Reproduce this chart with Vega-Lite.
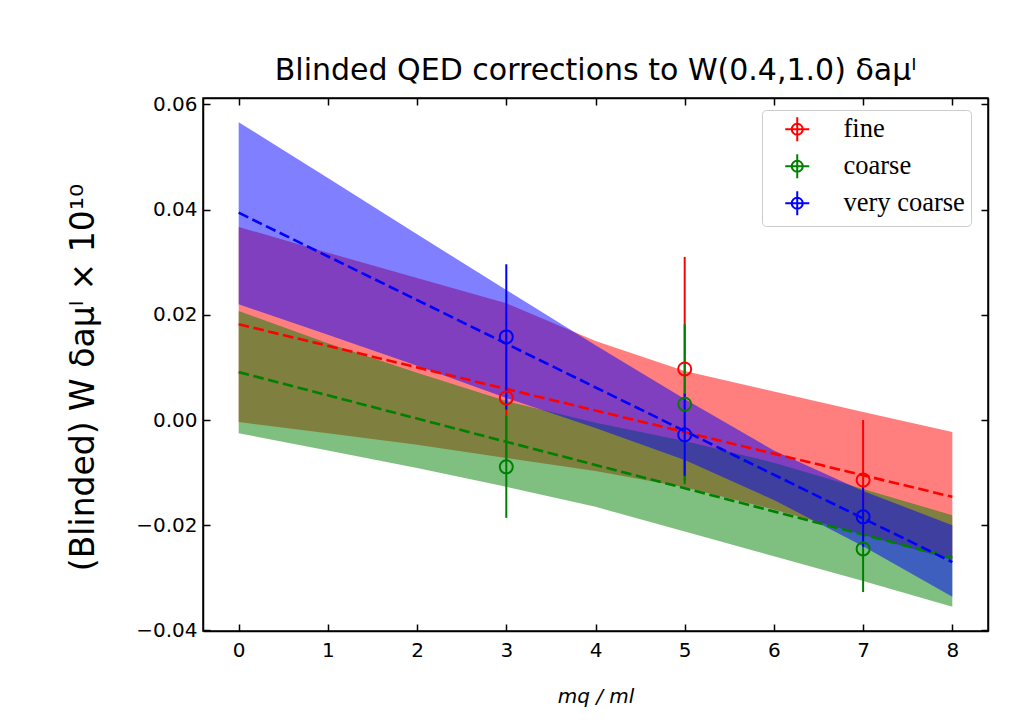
{
  "$schema": "https://vega.github.io/schema/vega-lite/v6.json",
  "width": 785,
  "height": 533,
  "autosize": {"type": "none"},
  "padding": {"left": 203, "top": 98, "right": 24, "bottom": 91},
  "background": "white",
  "title": {
    "text": "Blinded QED corrections to W(0.4,1.0) δaμˡ",
    "font": "DejaVu Sans",
    "fontSize": 30,
    "fontWeight": "normal",
    "color": "black",
    "anchor": "middle",
    "offset": 8
  },
  "config": {
    "view": {"stroke": "black", "strokeWidth": 1.5},
    "axis": {
      "grid": false,
      "domainColor": "black",
      "domainWidth": 1.5,
      "tickColor": "black",
      "tickWidth": 1.5,
      "tickSize": -7,
      "labelFont": "DejaVu Sans",
      "labelFontSize": 20,
      "labelColor": "black",
      "titleFont": "DejaVu Sans",
      "titleFontWeight": "normal",
      "titleColor": "black"
    }
  },
  "resolve": {"axis": {"x": "independent", "y": "independent"}},
  "datasets": {
    "bands": [
      {"series": "fine", "x": 0, "lo": -0.0004, "hi": 0.0367},
      {"series": "fine", "x": 1, "lo": -0.0025, "hi": 0.0318},
      {"series": "fine", "x": 2, "lo": -0.0047, "hi": 0.0270},
      {"series": "fine", "x": 3, "lo": -0.0072, "hi": 0.0222},
      {"series": "fine", "x": 4, "lo": -0.0097, "hi": 0.0150},
      {"series": "fine", "x": 5, "lo": -0.0128, "hi": 0.0093},
      {"series": "fine", "x": 6, "lo": -0.0170, "hi": 0.0054},
      {"series": "fine", "x": 7, "lo": -0.0218, "hi": 0.0015},
      {"series": "fine", "x": 8, "lo": -0.0266, "hi": -0.0023},
      {"series": "coarse", "x": 0, "lo": -0.0025, "hi": 0.0207},
      {"series": "coarse", "x": 1, "lo": -0.0058, "hi": 0.0146},
      {"series": "coarse", "x": 2, "lo": -0.0091, "hi": 0.0090},
      {"series": "coarse", "x": 3, "lo": -0.0127, "hi": 0.0036},
      {"series": "coarse", "x": 4, "lo": -0.0165, "hi": -0.0005},
      {"series": "coarse", "x": 5, "lo": -0.0212, "hi": -0.0040},
      {"series": "coarse", "x": 6, "lo": -0.0259, "hi": -0.0081},
      {"series": "coarse", "x": 7, "lo": -0.0306, "hi": -0.0131},
      {"series": "coarse", "x": 8, "lo": -0.0355, "hi": -0.0181},
      {"series": "very coarse", "x": 0, "lo": 0.0220, "hi": 0.0566},
      {"series": "very coarse", "x": 1, "lo": 0.0162, "hi": 0.0460},
      {"series": "very coarse", "x": 2, "lo": 0.0103, "hi": 0.0353},
      {"series": "very coarse", "x": 3, "lo": 0.0042, "hi": 0.0247},
      {"series": "very coarse", "x": 4, "lo": -0.0015, "hi": 0.0142},
      {"series": "very coarse", "x": 5, "lo": -0.0076, "hi": 0.0040},
      {"series": "very coarse", "x": 6, "lo": -0.0152, "hi": -0.0058},
      {"series": "very coarse", "x": 7, "lo": -0.0240, "hi": -0.0135},
      {"series": "very coarse", "x": 8, "lo": -0.0336, "hi": -0.0200}
    ],
    "fits": [
      {"series": "fine", "x": 0, "y": 0.0182},
      {"series": "fine", "x": 8, "y": -0.0146},
      {"series": "coarse", "x": 0, "y": 0.0091},
      {"series": "coarse", "x": 8, "y": -0.0262},
      {"series": "very coarse", "x": 0, "y": 0.0394},
      {"series": "very coarse", "x": 8, "y": -0.0270}
    ],
    "points": [
      {"series": "fine", "x": 3, "y": 0.0042, "lo": -0.0078, "hi": 0.0162},
      {"series": "fine", "x": 5, "y": 0.0097, "lo": -0.0116, "hi": 0.0310},
      {"series": "fine", "x": 7, "y": -0.0114, "lo": -0.0228, "hi": 0.0000},
      {"series": "coarse", "x": 3, "y": -0.0089, "lo": -0.0186, "hi": 0.0008},
      {"series": "coarse", "x": 5, "y": 0.0030, "lo": -0.0122, "hi": 0.0182},
      {"series": "coarse", "x": 7, "y": -0.0245, "lo": -0.0327, "hi": -0.0163},
      {"series": "very coarse", "x": 3, "y": 0.0158, "lo": 0.0020, "hi": 0.0296},
      {"series": "very coarse", "x": 5, "y": -0.0028, "lo": -0.0106, "hi": 0.0050},
      {"series": "very coarse", "x": 7, "y": -0.0184, "lo": -0.0241, "hi": -0.0127}
    ]
  },
  "layer": [
    {
      "data": {"name": "bands"},
      "transform": [{"filter": "datum.series === 'fine'"}],
      "mark": {"type": "area", "color": "#ff0000", "fillOpacity": 0.5},
      "encoding": {
        "x": {"field": "x", "type": "quantitative", "scale": {"domain": [-0.4, 8.4], "nice": false, "zero": false}, "axis": null},
        "y": {"field": "lo", "type": "quantitative", "scale": {"domain": [-0.0401, 0.0612], "nice": false, "zero": false}, "axis": null},
        "y2": {"field": "hi"}
      }
    },
    {
      "data": {"name": "bands"},
      "transform": [{"filter": "datum.series === 'coarse'"}],
      "mark": {"type": "area", "color": "#008000", "fillOpacity": 0.5},
      "encoding": {
        "x": {"field": "x", "type": "quantitative", "axis": null},
        "y": {"field": "lo", "type": "quantitative", "axis": null},
        "y2": {"field": "hi"}
      }
    },
    {
      "data": {"name": "bands"},
      "transform": [{"filter": "datum.series === 'very coarse'"}],
      "mark": {"type": "area", "color": "#0000ff", "fillOpacity": 0.5},
      "encoding": {
        "x": {"field": "x", "type": "quantitative", "axis": null},
        "y": {"field": "lo", "type": "quantitative", "axis": null},
        "y2": {"field": "hi"}
      }
    },
    {
      "data": {"name": "fits"},
      "transform": [{"filter": "datum.series === 'fine'"}],
      "mark": {"type": "line", "color": "#ff0000", "strokeWidth": 2.6, "strokeDash": [10.6, 4.6]},
      "encoding": {
        "x": {"field": "x", "type": "quantitative", "axis": {"orient": "top", "labels": false, "values": [0, 1, 2, 3, 4, 5, 6, 7, 8], "title": null}},
        "y": {"field": "y", "type": "quantitative", "axis": {"orient": "right", "labels": false, "values": [-0.04, -0.02, 0, 0.02, 0.04, 0.06], "title": null}}
      }
    },
    {
      "data": {"name": "fits"},
      "transform": [{"filter": "datum.series === 'coarse'"}],
      "mark": {"type": "line", "color": "#008000", "strokeWidth": 2.6, "strokeDash": [10.6, 4.6]},
      "encoding": {
        "x": {"field": "x", "type": "quantitative", "axis": null},
        "y": {"field": "y", "type": "quantitative", "axis": null}
      }
    },
    {
      "data": {"name": "fits"},
      "transform": [{"filter": "datum.series === 'very coarse'"}],
      "mark": {"type": "line", "color": "#0000ff", "strokeWidth": 2.6, "strokeDash": [10.6, 4.6]},
      "encoding": {
        "x": {"field": "x", "type": "quantitative", "axis": null},
        "y": {"field": "y", "type": "quantitative", "axis": null}
      }
    },
    {
      "data": {"name": "points"},
      "transform": [{"filter": "datum.series === 'fine'"}],
      "mark": {"type": "rule", "color": "#ff0000", "strokeWidth": 2},
      "encoding": {
        "x": {"field": "x", "type": "quantitative", "axis": null},
        "y": {"field": "lo", "type": "quantitative", "axis": null},
        "y2": {"field": "hi"}
      }
    },
    {
      "data": {"name": "points"},
      "transform": [{"filter": "datum.series === 'coarse'"}],
      "mark": {"type": "rule", "color": "#008000", "strokeWidth": 2},
      "encoding": {
        "x": {"field": "x", "type": "quantitative", "axis": null},
        "y": {"field": "lo", "type": "quantitative", "axis": null},
        "y2": {"field": "hi"}
      }
    },
    {
      "data": {"name": "points"},
      "transform": [{"filter": "datum.series === 'very coarse'"}],
      "mark": {"type": "rule", "color": "#0000ff", "strokeWidth": 2},
      "encoding": {
        "x": {"field": "x", "type": "quantitative", "axis": null},
        "y": {"field": "lo", "type": "quantitative", "axis": null},
        "y2": {"field": "hi"}
      }
    },
    {
      "data": {"name": "points"},
      "mark": {"type": "point", "shape": "circle", "filled": false, "size": 169, "strokeWidth": 2, "opacity": 1},
      "encoding": {
        "x": {"field": "x", "type": "quantitative", "axis": {"orient": "bottom", "values": [0, 1, 2, 3, 4, 5, 6, 7, 8], "labelPadding": 16, "title": "mq / ml", "titleFontSize": 20, "titleFontStyle": "italic", "titlePadding": 26}},
        "y": {"field": "y", "type": "quantitative", "axis": {"orient": "left", "values": [-0.04, -0.02, 0, 0.02, 0.04, 0.06], "format": ".2f", "labelPadding": 13, "title": "(Blinded) W δaμˡ × 10¹⁰", "titleFontSize": 33, "titlePadding": 35, "titleY": 279}},
        "color": {
          "field": "series", "type": "nominal",
          "scale": {"domain": ["fine", "coarse", "very coarse"], "range": ["#ff0000", "#008000", "#0000ff"]},
          "legend": {
            "title": null,
            "orient": "none",
            "legendX": 559,
            "legendY": 12,
            "symbolType": "M-1,0L1,0M0,-1L0,1M0.46,0A0.46,0.46 0 1,1 -0.46,0A0.46,0.46 0 1,1 0.46,0Z",
            "symbolSize": 576,
            "symbolStrokeWidth": 2,
            "labelFont": "Liberation Serif",
            "labelFontSize": 26.5,
            "labelColor": "black",
            "labelOffset": 33,
            "padding": 6,
            "rowPadding": 4,
            "symbolOffset": 16,
            "fillColor": "rgba(255,255,255,0.8)",
            "strokeColor": "#cccccc",
            "cornerRadius": 4
          }
        }
      }
    }
  ]
}
